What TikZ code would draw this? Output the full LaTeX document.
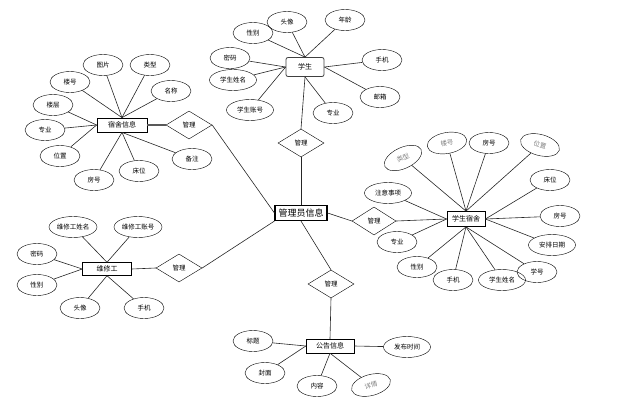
\documentclass[tikz,border=0pt]{standalone}
\usepackage{fontspec}
\setmainfont{Noto Sans CJK SC}
\usetikzlibrary{shapes.geometric}

\begin{document}
\begin{tikzpicture}[x=1pt,y=-1pt,
  attr/.style={draw,ellipse,minimum width=40,minimum height=21,inner sep=0pt,font=\fontsize{6.5}{7}\selectfont},
  tilted/.style={attr,text=black!50},
  ent/.style={draw,rectangle,minimum height=14,inner sep=1pt,font=\fontsize{7}{8}\selectfont},
  rel/.style={draw,diamond,aspect=1.65,minimum width=46,minimum height=28,inner sep=0pt,font=\fontsize{6.5}{7}\selectfont},
  link/.style={black!85,line width=0.6pt}]
\useasboundingbox (0,0) rectangle (635,413);

% entities
\node[ent,line width=1.1pt,minimum width=52,minimum height=15,inner sep=2pt,font=\fontsize{9}{10}\selectfont] (admin) at (301,213) {管理员信息};
\node[ent,draw=black!75,thick,rounded corners=2pt,minimum width=38,minimum height=19] (stu) at (305,67) {学生};
\node[ent,thick,minimum width=50] (dorm) at (122,125) {宿舍信息};
\node[ent,thick,minimum width=38,minimum height=15] (room) at (466,219) {学生宿舍};
\node[ent,minimum width=49,minimum height=13] (fix) at (107,269) {维修工};
\node[ent,minimum width=48] (notice) at (330,346) {公告信息};

% relations
\node[rel] (r1) at (301,143) {管理};
\node[rel] (r2) at (331,284) {管理};
\node[rel,minimum width=44] (r3) at (374,221) {管理};
\node[rel] (r4) at (189,125) {管理};
\node[rel] (r5) at (179,268) {管理};

\draw[link] (stu.south) -- (r1.north);
\draw[link] (r1.south) -- (admin);
\draw[link] (admin.south) -- (r2.north);
\draw[link] (r2.south) -- (notice.north);
\draw[link] (admin.east) -- (r3.west);
\draw[link] (r3.east) -- (room.west);
\draw[black!65,line width=1.6pt] (dorm.east) -- (r4.west);
\draw[link] (r4.east) -- (admin.west);
\draw[link] (fix.east) -- (r5.west);
\draw[link] (r5.east) -- (admin.south west);

% attributes
\foreach \t/\x/\y/\s/\w [count=\i] in {图片/103/65/north/40, 类型/150/65/north/40, 楼号/70/82/north/40,
  名称/171/91/north/40, 楼层/53/105/west/40, 专业/45/130/west/40, 位置/60/156/west/40,
  房号/94/180/south/40, 床位/139/171/south/40, 备注/192/159/south/40}
  {\node[attr,minimum width=\w] (d\i) at (\x,\y) {\t}; \draw[link] (d\i) -- (dorm.\s);}

\foreach \t/\x/\y/\s/\w [count=\i] in {头像/287/22/north/40, 年龄/345/20/north/40, 性别/253/33/north/40,
  密码/230/58/west/40, 学生姓名/233/80/west/47, 学生账号/250/110/west/47, 手机/382/60/east/40,
  邮箱/380/97/east/40, 专业/333/113/south/40}
  {\node[attr,minimum width=\w] (s\i) at (\x,\y) {\t}; \draw[link] (s\i) -- (stu.\s);}

\foreach \t/\x/\y/\s/\w [count=\i] in {注意事项/388/193/west/47, 房号/489/143/north/40, 床位/550/180/east/40,
  房号/560/216/east/40, 安排日期/552/245/east/47, 专业/397/242/west/40, 性别/417/267/south/40,
  手机/453/280/south/40, 学号/537/272/south/40, 学生姓名/502/280/south/47}
  {\node[attr,minimum width=\w] (q\i) at (\x,\y) {\t}; \draw[link] (q\i) -- (room.\s);}
\node[tilted,rotate=25] (q11) at (403,158) {类型};
\node[tilted,rotate=10] (q12) at (447,143) {楼号};
\node[tilted,rotate=-15] (q13) at (540,145) {位置};
\foreach \i in {11,12,13} \draw[link] (q\i) -- (room.north);

\foreach \t/\x/\y/\s/\w [count=\i] in {维修工姓名/73/227/north/48, 维修工账号/138/227/north/48, 密码/37/254/west/40,
  性别/37/285/west/40, 头像/80/308/south/40, 手机/144/308/south/40}
  {\node[attr,minimum width=\w] (w\i) at (\x,\y) {\t}; \draw[link] (w\i) -- (fix.\s);}

\foreach \t/\x/\y/\s/\w [count=\i] in {标题/253/341/west/40, 封面/265/373/west/40, 内容/317/386/south/40,
  发布时间/407/347/east/47}
  {\node[attr,minimum width=\w] (n\i) at (\x,\y) {\t}; \draw[link] (n\i) -- (notice.\s);}
\node[tilted,rotate=15] (n5) at (371,385) {详情};
\draw[link] (n5) -- (notice.south);
\end{tikzpicture}
\end{document}
